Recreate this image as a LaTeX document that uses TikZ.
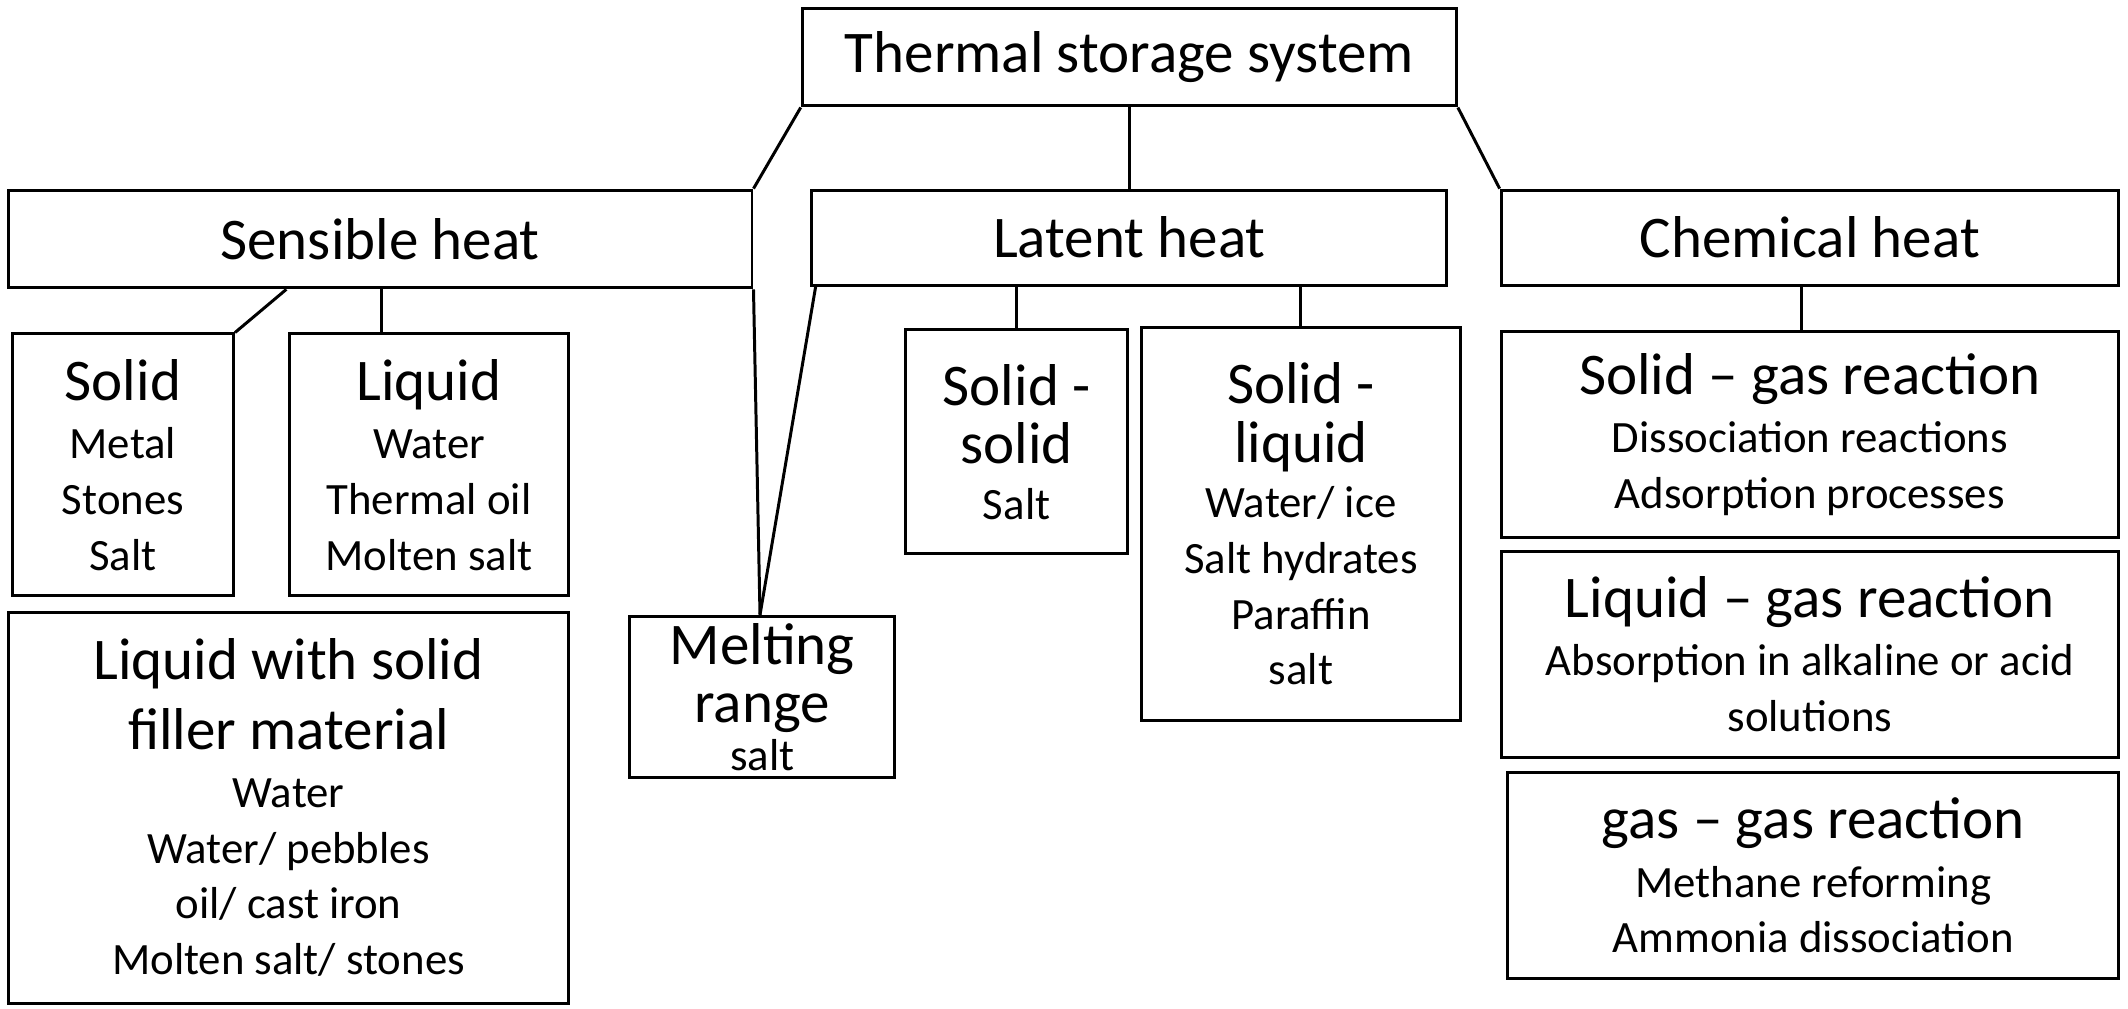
\documentclass[tikz,border=0pt]{standalone}
\usepackage{fontspec}
\setmainfont{Carlito}
\newcommand\hdfont{\fontsize{43.5}{50}\selectfont}
\newcommand\subfont{\fontsize{33}{41}\selectfont}
\newcommand\hd[1]{{\hdfont #1}}
\begin{document}
\begin{tikzpicture}[x=1pt,y=-1pt,
  box/.style={draw, line width=2.2pt, anchor=north west, inner sep=0pt, align=center, font=\subfont},
  conn/.style={line width=2.2pt}]
\useasboundingbox (0,0) rectangle (1568,743);
% level 0
\node[box, minimum width=482pt, minimum height=72pt, font=\hdfont] (top) at (590,5) {Thermal storage system};
% level 1
\node[box, minimum width=548pt, minimum height=72pt, font=\hdfont] (sens) at (5,139) {Sensible heat};
\node[box, minimum width=468pt, minimum height=70pt, font=\hdfont] (lat) at (597,139) {Latent heat};
\node[box, minimum width=455pt, minimum height=70pt, font=\hdfont] (chem) at (1105,139) {Chemical heat};
% sensible
\node[box, minimum width=163pt, minimum height=193pt] (solid) at (8,245) {\hd{Solid}\\[2pt]Metal\\Stones\\Salt};
\node[box, minimum width=206pt, minimum height=193pt] (liq) at (212,245) {\hd{Liquid}\\[2pt]Water\\Thermal oil\\Molten salt};
\node[box, minimum width=413pt, minimum height=288pt] (fill) at (5,450) {\hd{Liquid with solid}\\[10pt]\hd{filler material}\\[2pt]Water\\Water/ pebbles\\oil/ cast iron\\Molten salt/ stones};
% latent
\node[box, minimum width=195pt, minimum height=119pt] (melt) at (463,453) {\hd{Melting}\\[2pt]\hd{range}\\[-6pt]salt};
\node[box, minimum width=164pt, minimum height=165pt] (ss) at (666,242) {\hd{Solid -}\\[2pt]\hd{solid}\\[0pt]Salt};
\node[box, minimum width=235pt, minimum height=290pt] (sl) at (840,240) {\hd{Solid -}\\[2pt]\hd{liquid}\\[0pt]Water/ ice\\Salt hydrates\\Paraffin\\salt};
% chemical
\node[box, minimum width=455pt, minimum height=152pt] (sg) at (1105,243) {\hd{Solid -- gas reaction}\\[2pt]Dissociation reactions\\Adsorption processes};
\node[box, minimum width=455pt, minimum height=152pt] (lg) at (1105,405) {\hd{Liquid -- gas reaction}\\[2pt]Absorption in alkaline or acid\\solutions};
\node[box, minimum width=450pt, minimum height=152pt] (gg) at (1110,568) {\hd{gas -- gas reaction}\\[2pt]Methane reforming\\Ammonia dissociation};
% connectors
\draw[conn] (top.south west) -- (sens.north east);
\draw[conn] (top.south) -- (lat.north);
\draw[conn] (top.south east) -- (chem.north west);
\draw[conn] ([xshift=206pt]sens.south west) -- (solid.north east);
\draw[conn] ([xshift=276pt]sens.south west) -- ([xshift=69pt]liq.north west);
\draw[conn] (sens.south east) -- ([xshift=97pt]melt.north west);
\draw[conn] ([xshift=4pt]lat.south west) -- ([xshift=97pt]melt.north west);
\draw[conn] (lat.south -| ss.north) -- (ss.north);
\draw[conn] (lat.south -| sl.north) -- (sl.north);
\draw[conn] ([xshift=-6pt]chem.south) -- ([xshift=-6pt]chem.south |- sg.north);
\end{tikzpicture}
\end{document}
